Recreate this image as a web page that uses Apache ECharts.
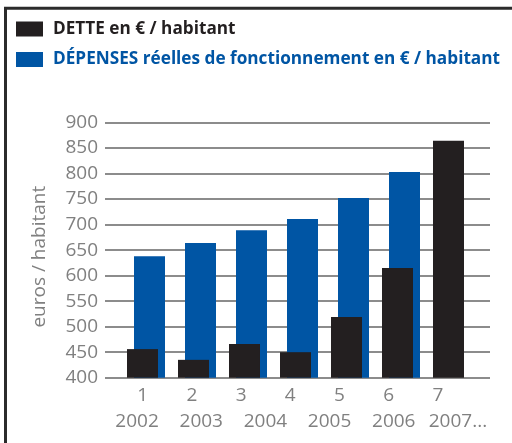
<!DOCTYPE html>
<html>
<head>
<meta charset="utf-8">
<script src="https://cdn.jsdelivr.net/npm/echarts@6/dist/echarts.min.js"></script>
<style>
html,body{margin:0;padding:0;background:#fff;}
#c{width:512px;height:443px;}
</style>
</head>
<body>
<div id="c"></div>
<script>
var categories = ['1','2','3','4','5','6','7'];
var years = ['2002','2003','2004','2005','2006','2007...'];
var detteName = 'DETTE en € / habitant';
var depensesName = 'DÉPENSES réelles de fonctionnement en € / habitant';
var dette = [456, 435, 466, 450, 519, 615, 864];
var depenses = [638, 664, 689, 711, 752, 803, '-'];
var yMin = 400, yMax = 900, yStep = 50;
var yAxisTitle = 'euros / habitant';

var gray = '#808080';
var font = 'Open Sans';
var chart = echarts.init(document.getElementById('c'), null, {renderer:'canvas'});
var gridTop = 122.5, gridBottom = 443 - 377.7;
chart.setOption({
  animation:false,
  backgroundColor:'#fff',
  graphic:[
    {type:'rect', shape:{x:5.5, y:8.2, width:700, height:700}, style:{fill:'none', stroke:'#2b2b2b', lineWidth:3}, z:0},
    {type:'text', x:40, y:256.7, rotation:Math.PI/2, style:{text:yAxisTitle, fill:gray, font:'19px "Open Sans"', align:'center', verticalAlign:'middle'}}
  ],
  legend:{
    orient:'vertical', left:16, top:20.5, padding:0, itemWidth:27, itemHeight:15, itemGap:13.5,
    icon:'rect', selectedMode:false,
    textStyle:{fontFamily:font, fontWeight:'bold', fontSize:17.2, padding:[0,0,0,5]},
    data:[
      {name:detteName, textStyle:{color:'#231f20'}},
      {name:depensesName, textStyle:{color:'#0055a4'}}
    ]
  },
  grid:[
    {left:105, right:22, top:gridTop, bottom:gridBottom},
    {left:120.5, width:357, top:gridTop, bottom:gridBottom},
    {left:118.1, width:344.4, top:gridTop, bottom:gridBottom}
  ],
  xAxis:[
    {gridIndex:0, type:'category', data:years, axisLine:{show:false}, axisTick:{show:false},
     axisLabel:{color:gray, fontFamily:font, fontSize:19, margin:34, interval:0}},
    {gridIndex:1, type:'category', data:categories, axisLine:{show:false}, axisTick:{show:false}, axisLabel:{show:false}},
    {gridIndex:2, type:'category', data:categories, axisLine:{show:false}, axisTick:{show:false},
     axisLabel:{color:gray, fontFamily:font, fontSize:19, margin:8, interval:0}}
  ],
  yAxis:[
    {gridIndex:0, type:'value', min:yMin, max:yMax, interval:yStep,
     axisLine:{show:false}, axisTick:{show:false},
     axisLabel:{color:gray, fontFamily:font, fontSize:19, margin:7},
     splitLine:{show:true, lineStyle:{color:'#8c8c8c', width:2}}},
    {gridIndex:1, type:'value', min:yMin, max:yMax, interval:yStep, show:false, splitLine:{show:false}},
    {gridIndex:2, type:'value', min:yMin, max:yMax, interval:yStep, show:false, splitLine:{show:false}}
  ],
  series:[
    {name:detteName, type:'bar', xAxisIndex:1, yAxisIndex:1, data:dette, barWidth:31, barGap:'-77.4%',
     itemStyle:{color:'#231f20'}, z:4},
    {name:depensesName, type:'bar', xAxisIndex:1, yAxisIndex:1, data:depenses, barWidth:31, barGap:'-77.4%',
     itemStyle:{color:'#0055a4'}, z:3}
  ]
});
</script>
</body>
</html>
